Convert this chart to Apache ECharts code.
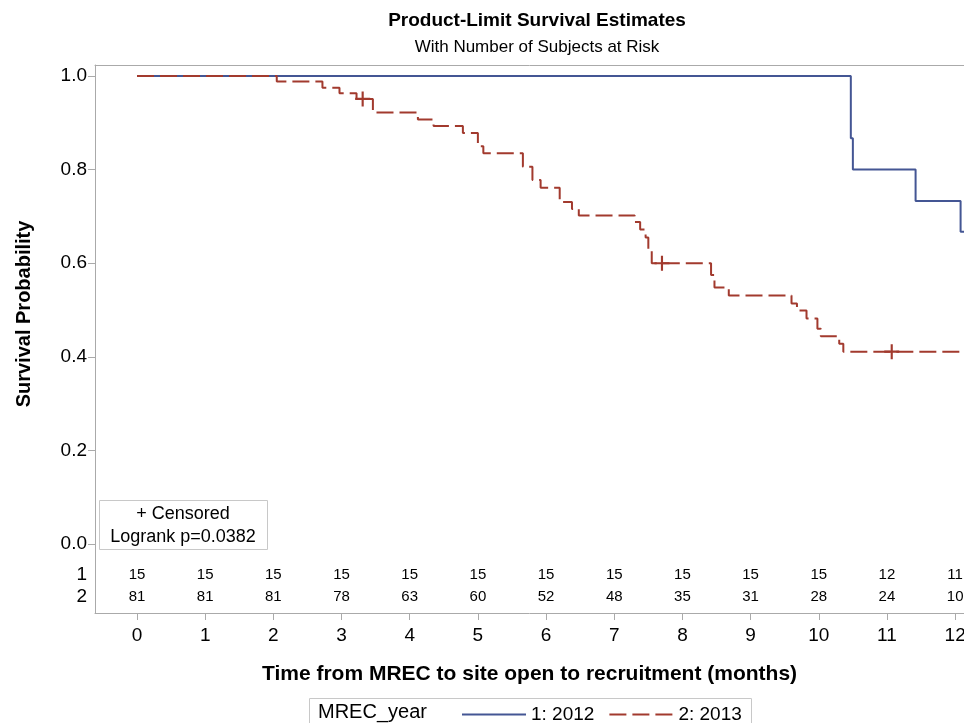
<!DOCTYPE html>
<html>
<head>
<meta charset="utf-8">
<title>Product-Limit Survival Estimates</title>
<script src="https://cdn.jsdelivr.net/npm/echarts@6/dist/echarts.min.js"></script>
<style>
  html, body { margin: 0; padding: 0; background: #fff; }
  #chart { width: 964px; height: 723px; }
</style>
</head>
<body>
<div id="chart"></div>
<script>
// survival curve steps: [time (months), survival probability]
const group2012 = [
  [0, 1.0], [10.47, 0.867], [10.5, 0.8], [11.42, 0.733], [12.08, 0.667], [12.4, 0.667]
]
const group2013 = [
  [0, 1.0], [2.05, 0.988], [2.72, 0.975], [2.97, 0.963], [3.22, 0.951],
  [3.46, 0.922], [4.12, 0.907], [4.35, 0.893], [4.78, 0.878], [5.0, 0.85],
  [5.08, 0.835], [5.66, 0.806], [5.8, 0.778], [5.92, 0.761], [6.2, 0.731],
  [6.38, 0.716], [6.48, 0.702], [7.3, 0.688], [7.38, 0.672], [7.46, 0.655],
  [7.5, 0.631], [7.55, 0.6], [8.42, 0.575], [8.47, 0.548], [8.68, 0.531],
  [9.6, 0.514], [9.68, 0.499], [9.82, 0.482], [9.98, 0.46], [10.03, 0.444],
  [10.3, 0.428], [10.36, 0.411], [12.4, 0.411]
]
const censored2013 = [[3.31, 0.951], [7.7, 0.6], [11.07, 0.411]]

// number at risk table
const riskTimes = [0, 1, 2, 3, 4, 5, 6, 7, 8, 9, 10, 11, 12]
const atRisk2012 = [15, 15, 15, 15, 15, 15, 15, 15, 15, 15, 15, 12, 11]
const atRisk2013 = [81, 81, 81, 78, 63, 60, 52, 48, 35, 31, 28, 24, 10]
const yTicks = [0, 0.2, 0.4, 0.6, 0.8, 1.0]

const font = '"Liberation Sans", Arial, sans-serif'
const blue = '#445694'
const red = '#a23a2e'
const frameColor = '#aaaaaa'
// y positions of the two at-risk rows inside the plot frame
const rowY1 = -0.066
const rowY2 = -0.113
const xMin = -0.616
const xMax = 12.13

const chart = echarts.init(document.getElementById('chart'))

const riskSeries = (name, counts, y) => ({
  name,
  type: 'scatter',
  symbolSize: 1,
  silent: true,
  itemStyle: { color: 'transparent', opacity: 1 },
  data: riskTimes.map((t, i) => [t, y, counts[i]]),
  label: {
    show: true,
    position: 'inside',
    formatter: (p) => String(p.data[2]),
    fontFamily: font,
    fontSize: 15,
    color: '#000',
    opacity: 1,
  },
})

const option = {
  animation: false,
  textStyle: { fontFamily: font },
  title: {
    text: 'Product-Limit Survival Estimates',
    subtext: 'With Number of Subjects at Risk',
    left: 532,
    textAlign: 'center',
    top: 6,
    itemGap: 9,
    textStyle: { fontFamily: font, fontSize: 19, fontWeight: 'bold', color: '#000' },
    subtextStyle: { fontFamily: font, fontSize: 17, color: '#000' },
  },
  grid: {
    left: 95,
    right: 0,
    top: 65,
    bottom: 110,
    outerBoundsMode: 'none',
  },
  legend: {
    data: ['1: 2012', '2: 2013'],
    left: 456,
    top: 700,
    itemWidth: 64,
    itemHeight: 14,
    itemGap: 14,
    itemStyle: { opacity: 0 },
    textStyle: { fontFamily: font, fontSize: 19, color: '#000' },
  },
  xAxis: [
    {
      type: 'value',
      min: xMin,
      max: xMax,
      name: 'Time from MREC to site open to recruitment (months)',
      nameLocation: 'middle',
      nameGap: 51,
      nameTextStyle: { fontFamily: font, fontSize: 21, fontWeight: 'bold', color: '#000' },
      axisLine: { show: true, onZero: false, lineStyle: { color: frameColor } },
      axisTick: { show: true, customValues: riskTimes, length: 7, lineStyle: { color: frameColor } },
      axisLabel: { customValues: riskTimes, fontSize: 19, color: '#000', margin: 13 },
      splitLine: { show: false },
    },
    {
      // top edge of the plot frame
      type: 'value',
      position: 'top',
      min: xMin,
      max: xMax,
      axisLine: { show: true, onZero: false, lineStyle: { color: frameColor } },
      axisTick: { show: false },
      axisLabel: { show: false },
      splitLine: { show: false },
    },
  ],
  yAxis: {
    type: 'value',
    min: -0.1474,
    max: 1.0235,
    axisLine: { show: true, onZero: false, lineStyle: { color: frameColor } },
    axisTick: { show: true, customValues: yTicks, length: 7, lineStyle: { color: frameColor } },
    axisLabel: {
      customValues: [rowY2, rowY1].concat(yTicks),
      fontSize: 19,
      color: '#000',
      margin: 8,
      formatter: (v) => {
        if (Math.abs(v - rowY1) < 1e-6) return '1'
        if (Math.abs(v - rowY2) < 1e-6) return '2'
        return v.toFixed(1)
      },
    },
    splitLine: { show: false },
  },
  graphic: [
    {
      type: 'text',
      x: 24,
      y: 314,
      rotation: Math.PI / 2,
      style: {
        text: 'Survival Probability',
        font: 'bold 20px ' + font,
        fill: '#000',
        align: 'center',
        verticalAlign: 'middle',
      },
    },
    // inset box
    {
      type: 'rect',
      shape: { x: 99.5, y: 500.5, width: 168, height: 49 },
      style: { fill: '#fff', stroke: '#c8c8c8', lineWidth: 1 },
      z: 10,
    },
    {
      type: 'text',
      x: 183,
      y: 514,
      z: 11,
      style: { text: '+ Censored', font: '18px ' + font, fill: '#000', align: 'center', verticalAlign: 'middle' },
    },
    {
      type: 'text',
      x: 183,
      y: 537,
      z: 11,
      style: { text: 'Logrank p=0.0382', font: '18px ' + font, fill: '#000', align: 'center', verticalAlign: 'middle' },
    },
    // legend box
    {
      type: 'rect',
      shape: { x: 309.5, y: 698.5, width: 442, height: 34 },
      style: { fill: 'none', stroke: '#c8c8c8', lineWidth: 1 },
    },
    {
      type: 'text',
      x: 318,
      y: 712,
      style: { text: 'MREC_year', font: '20px ' + font, fill: '#000', verticalAlign: 'middle' },
    },
  ],
  series: [
    {
      name: '1: 2012',
      type: 'line',
      step: 'end',
      symbol: 'none',
      data: group2012,
      lineStyle: { color: blue, width: 2 },
      itemStyle: { color: blue },
      z: 3,
    },
    {
      name: '2: 2013',
      type: 'line',
      step: 'end',
      symbol: 'none',
      data: group2013,
      lineStyle: { color: red, width: 2, type: [17, 6] },
      itemStyle: { color: red },
      z: 4,
    },
    {
      name: 'Censored',
      type: 'scatter',
      symbol: 'path://M-1,-7H1V7H-1Z M-7,-1H7V1H-7Z',
      symbolSize: 15,
      data: censored2013,
      itemStyle: { color: red, opacity: 1 },
      z: 5,
    },
    riskSeries('risk1', atRisk2012, rowY1),
    riskSeries('risk2', atRisk2013, rowY2),
  ],
}

chart.setOption(option)
</script>
</body>
</html>
